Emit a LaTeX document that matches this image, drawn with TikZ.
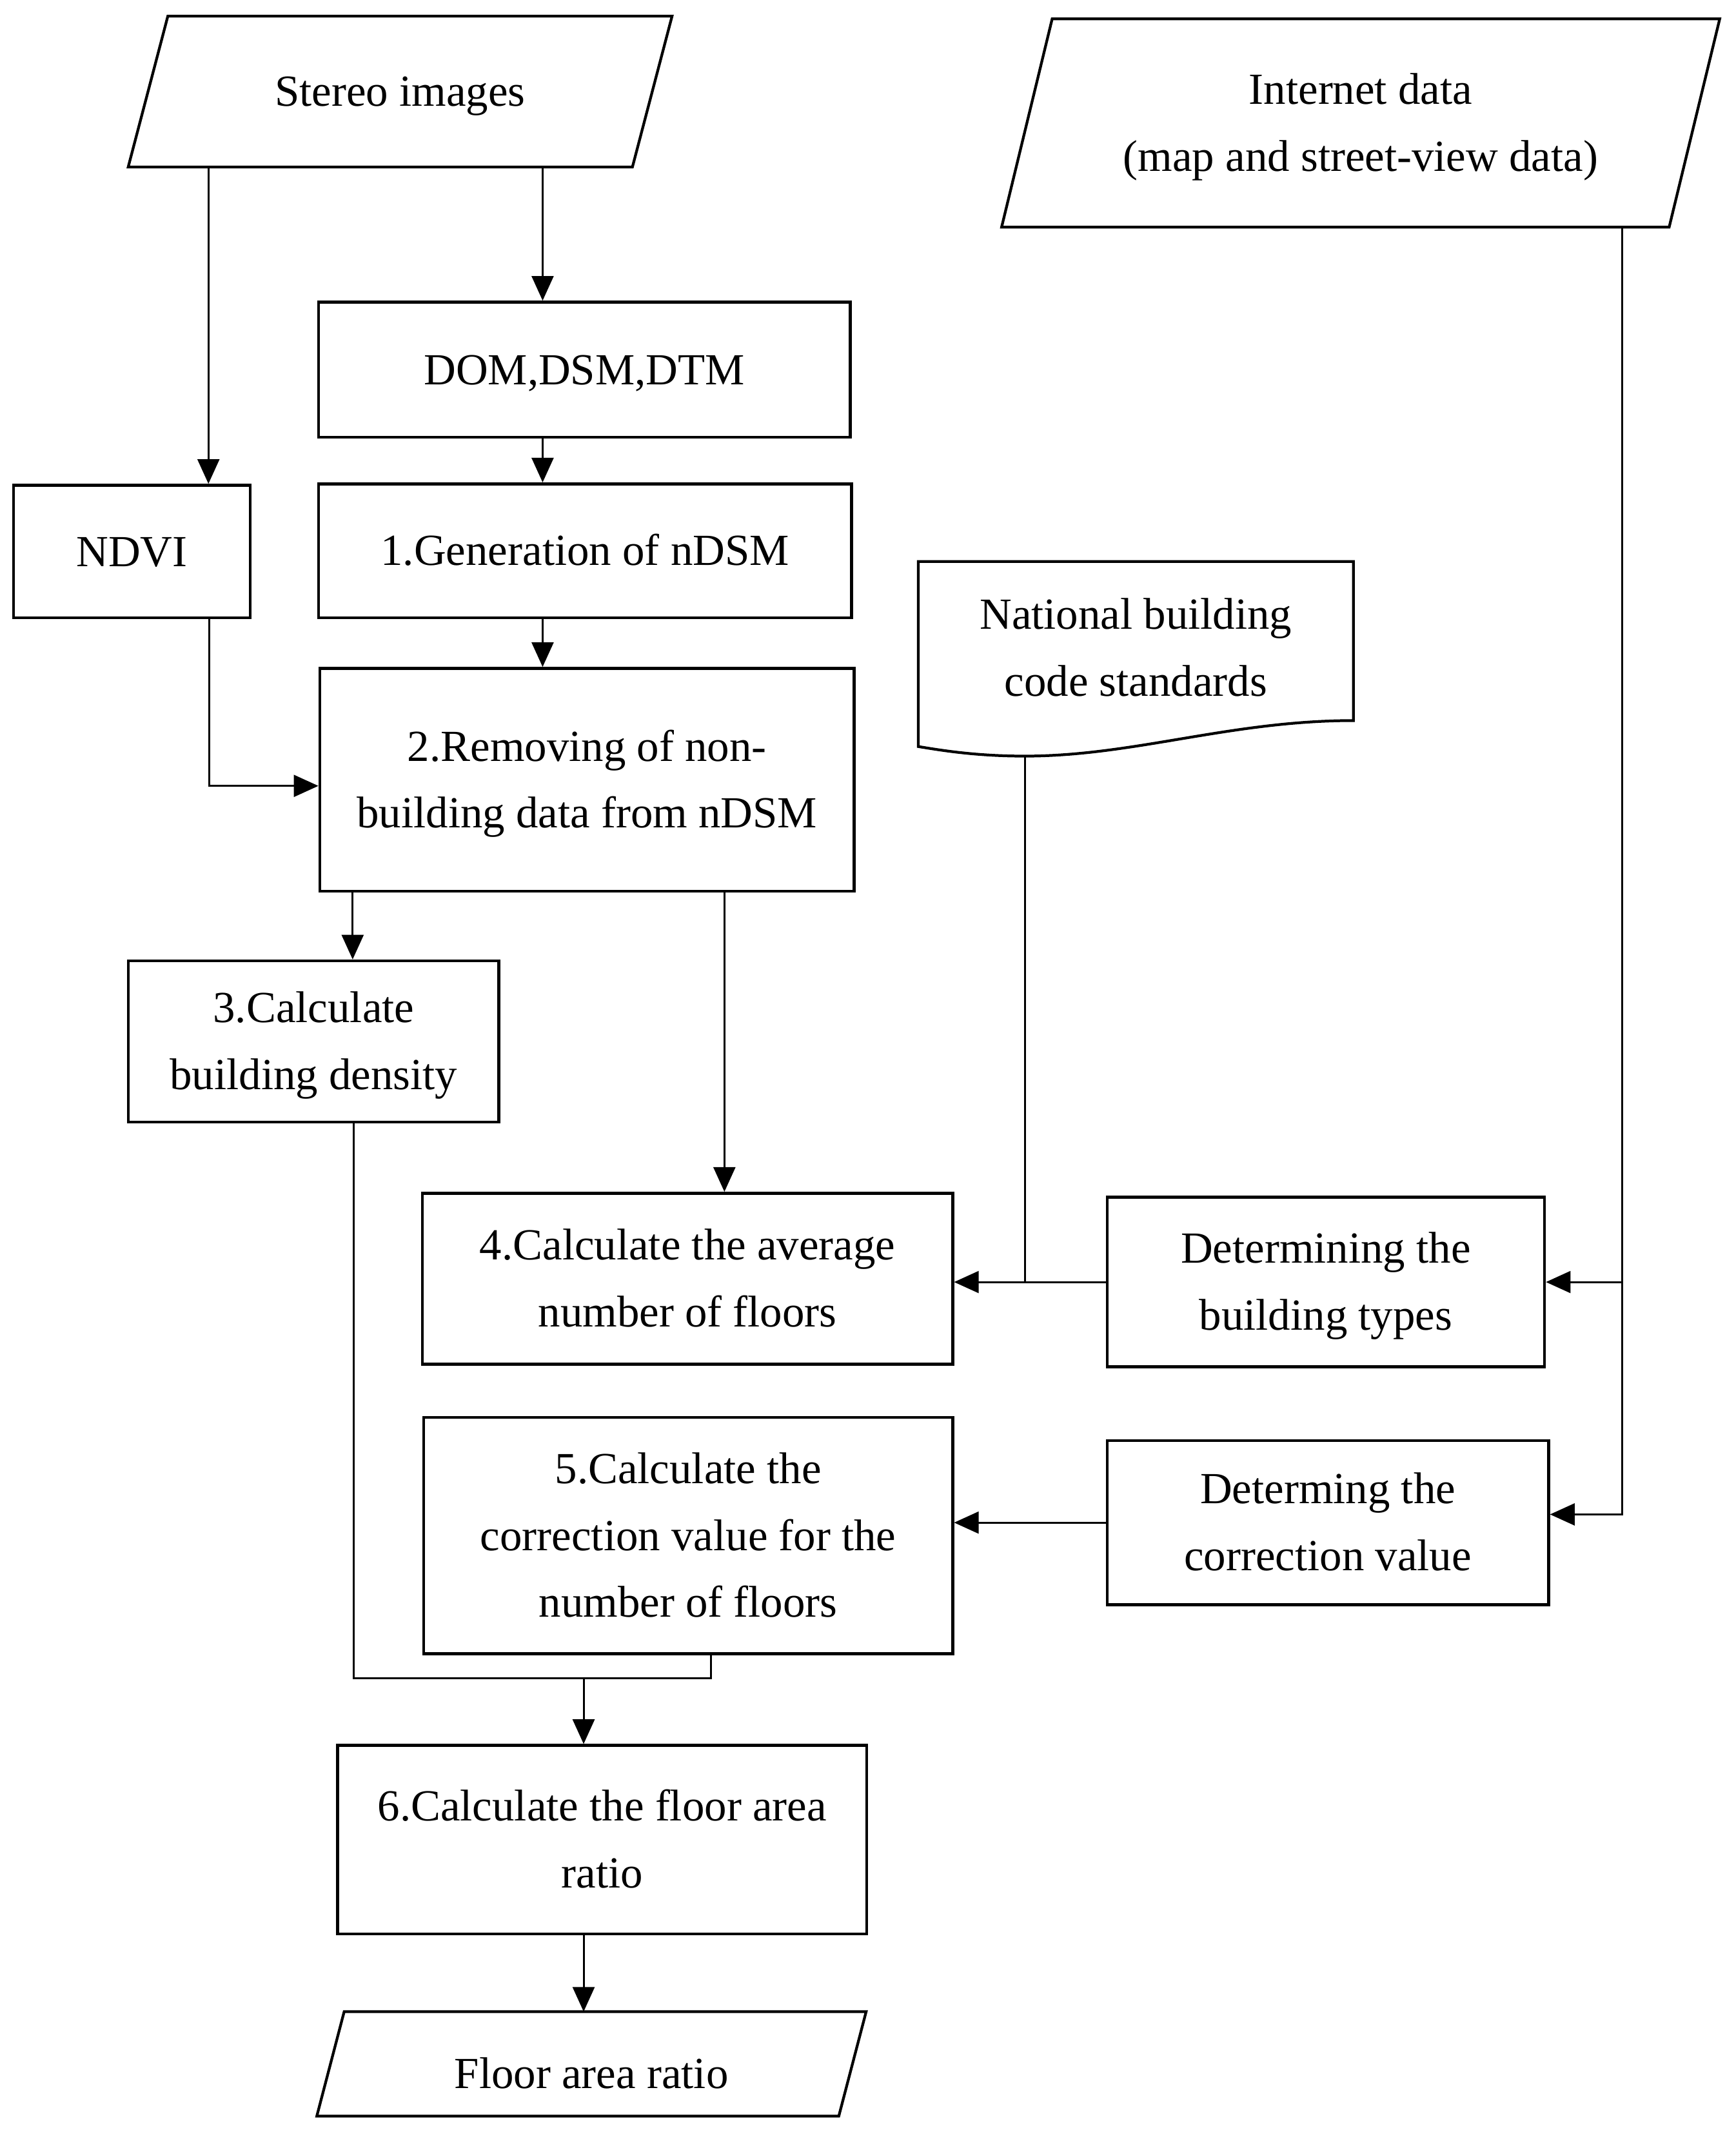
\documentclass[tikz,border=0pt]{standalone}
\usepackage{fontspec}
\setmainfont{Liberation Serif}
\usetikzlibrary{arrows.meta,calc}
\begin{document}
\begin{tikzpicture}[x=1pt,y=-1pt,
  lbl/.style={align=center, inner sep=0pt, text height=21.5pt, text depth=0pt, font=\fontsize{32.5}{49}\selectfont},
  twol/.style={text height=70.5pt},
  threel/.style={text height=119.5pt},
  box/.style={lbl, draw, line width=2.1pt},
  shp/.style={line width=2pt, line join=miter},
  ln/.style={line width=1.4pt},
  arr/.style={ln, -{Triangle[length=18pt,width=16pt]}}]
\useasboundingbox (0,0) rectangle (1270,1565);
\fill[white] (0,0) rectangle (1270,1565);

% input / output parallelograms
\node[lbl, minimum width=368.5pt, minimum height=110pt] (stereo) at (292.75,67) {Stereo images};
\draw[shp] ($(stereo.north west)+(14.5,0)$) -- ($(stereo.north east)+(14.5,0)$) -- ($(stereo.south east)+(-14.5,0)$) -- ($(stereo.south west)+(-14.5,0)$) -- cycle;

\node[lbl, twol, minimum width=488pt, minimum height=152pt] (inet) at (995.5,90) {Internet data\\(map and street-view data)};
\draw[shp] ($(inet.north west)+(18.5,0)$) -- ($(inet.north east)+(18.5,0)$) -- ($(inet.south east)+(-18.5,0)$) -- ($(inet.south west)+(-18.5,0)$) -- cycle;

\node[lbl, text height=35.5pt, minimum width=381.5pt, minimum height=76pt] (far) at (432.75,1510) {Floor area ratio};
\draw[shp] ($(far.north west)+(10,0)$) -- ($(far.north east)+(10,0)$) -- ($(far.south east)+(-10,0)$) -- ($(far.south west)+(-10,0)$) -- cycle;

% document shape
\node[lbl, twol, text depth=9pt, minimum width=318pt, minimum height=135pt] (natl) at (831,478.5) {National building\\code standards};
\coordinate (natlout) at ($(natl.south west)+(78,7)$);
\draw[shp] (natl.south west) -- (natl.north west) -- (natl.north east) -- ($(natl.south east)+(0,-19)$)
  .. controls ($(natl.south east)+(-90,-19)$) and ($(natl.south west)+(158,7)$) .. (natlout)
  .. controls ($(natl.south west)+(43,7)$) and ($(natl.south west)+(18,3)$) .. (natl.south west) -- cycle;

% process boxes
\node[box, minimum width=389pt, minimum height=99pt] (dom) at (427.5,270.5) {DOM,DSM,DTM};
\node[box, minimum width=173pt, minimum height=97pt] (ndvi) at (96.5,403.5) {NDVI};
\node[box, minimum width=390pt, minimum height=98pt] (gen) at (428,403) {1.Generation of nDSM};
\node[box, twol, minimum width=391pt, minimum height=163pt] (rem) at (429.5,570.5) {2.Removing of non-\\building data from nDSM};
\node[box, twol, minimum width=271pt, minimum height=118pt] (calc3) at (229.5,762) {3.Calculate\\building density};
\node[box, twol, minimum width=388pt, minimum height=125pt] (calc4) at (503,935.5) {4.Calculate the average\\number of floors};
\node[box, twol, minimum width=320pt, minimum height=124pt] (dtypes) at (970,938) {Determining the\\building types};
\node[box, threel, minimum width=387pt, minimum height=173pt] (calc5) at (503.5,1123.5) {5.Calculate the\\correction value for the\\number of floors};
\node[box, twol, minimum width=323pt, minimum height=120pt] (dcorr) at (971.5,1114) {Determing the\\correction value};
\node[box, twol, minimum width=387pt, minimum height=138pt] (calc6) at (440.5,1346) {6.Calculate the floor area\\ratio};

% connectors
\draw[arr] ([xshift=56pt]ndvi.north |- stereo.south) -- ([xshift=56pt]ndvi.north);
\draw[arr] ([xshift=-30.5pt]dom.north |- stereo.south) -- ([xshift=-30.5pt]dom.north);
\draw[arr] ([xshift=-30.5pt]dom.south) -- ([xshift=-30.5pt]dom.south |- gen.north);
\draw[arr] ([xshift=-30.5pt]dom.south |- gen.south) -- ([xshift=-30.5pt]dom.south |- rem.north);
\draw[arr] ([xshift=56.5pt]ndvi.south) |- ([yshift=-4.5pt]rem.west);
\draw[arr] ([xshift=28.5pt]calc3.north |- rem.south) -- ([xshift=28.5pt]calc3.north);
\draw[arr] ([xshift=27pt]calc4.north |- rem.south) -- ([xshift=27pt]calc4.north);
\draw[arr] (dtypes.west) -- (dtypes.west -| calc4.east);
\draw[ln] (natlout) -- (natlout |- dtypes.west);
\draw[arr] ([xshift=191.5pt]inet.south) |- ([yshift=6pt]dcorr.east);
\draw[arr] ([xshift=191.5pt]inet.south |- dtypes.east) -- (dtypes.east);
\draw[arr] (dcorr.west) -- (dcorr.west -| calc5.east);
\coordinate (join) at (427,1228);
\draw[ln] ([xshift=29.5pt]calc3.south) |- ([xshift=16.5pt]calc5.south |- join) -- ([xshift=16.5pt]calc5.south);
\draw[arr] (join) -- (join |- calc6.north);
\draw[arr] (join |- calc6.south) -- (join |- far.north);
\end{tikzpicture}
\end{document}
